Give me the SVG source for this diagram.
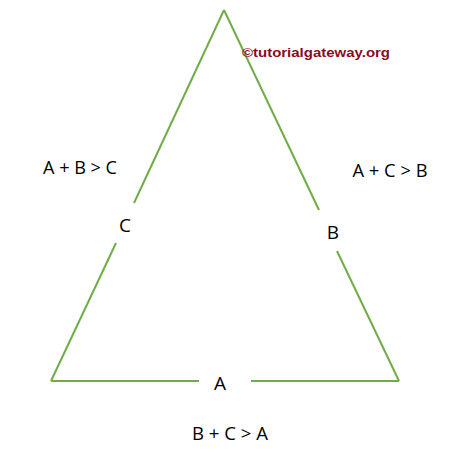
<svg xmlns="http://www.w3.org/2000/svg" width="451" height="457" viewBox="0 0 451 457">
<style>
.edge{stroke:#70AD47;stroke-width:2;fill:none}
.lbl{font-family:"Open Sans","Liberation Sans",sans-serif;font-size:19px;fill:#000;text-anchor:middle}
.wm{font-family:"Liberation Sans",sans-serif;font-size:13px;font-weight:bold;fill:#8B0A1E}
</style>
<rect width="451" height="457" fill="#fff"/>
<g id="connectors">
<line class="edge" x1="224" y1="10" x2="134" y2="203"/>
<line class="edge" x1="116" y1="243" x2="51" y2="381"/>
<line class="edge" x1="224" y1="10" x2="319" y2="210"/>
<line class="edge" x1="337" y1="251" x2="399" y2="381"/>
<line class="edge" x1="51" y1="381" x2="199" y2="381"/>
<line class="edge" x1="251" y1="381" x2="399" y2="381"/>
</g>
<g id="labelC"><text class="lbl" x="125" y="232">C</text></g>
<g id="labelB"><text class="lbl" x="333" y="239">B</text></g>
<g id="labelA"><text class="lbl" x="220" y="390">A</text></g>
<g id="ruleC"><text class="lbl" x="80" y="174" textLength="74" lengthAdjust="spacingAndGlyphs">A + B &gt; C</text></g>
<g id="ruleB"><text class="lbl" x="390" y="177" textLength="75" lengthAdjust="spacingAndGlyphs">A + C &gt; B</text></g>
<g id="ruleA"><text class="lbl" x="230" y="440" textLength="76" lengthAdjust="spacingAndGlyphs">B + C &gt; A</text></g>
<g id="watermark"><text class="wm" x="242" y="57" textLength="148" lengthAdjust="spacingAndGlyphs">©tutorialgateway.org</text></g>
</svg>
